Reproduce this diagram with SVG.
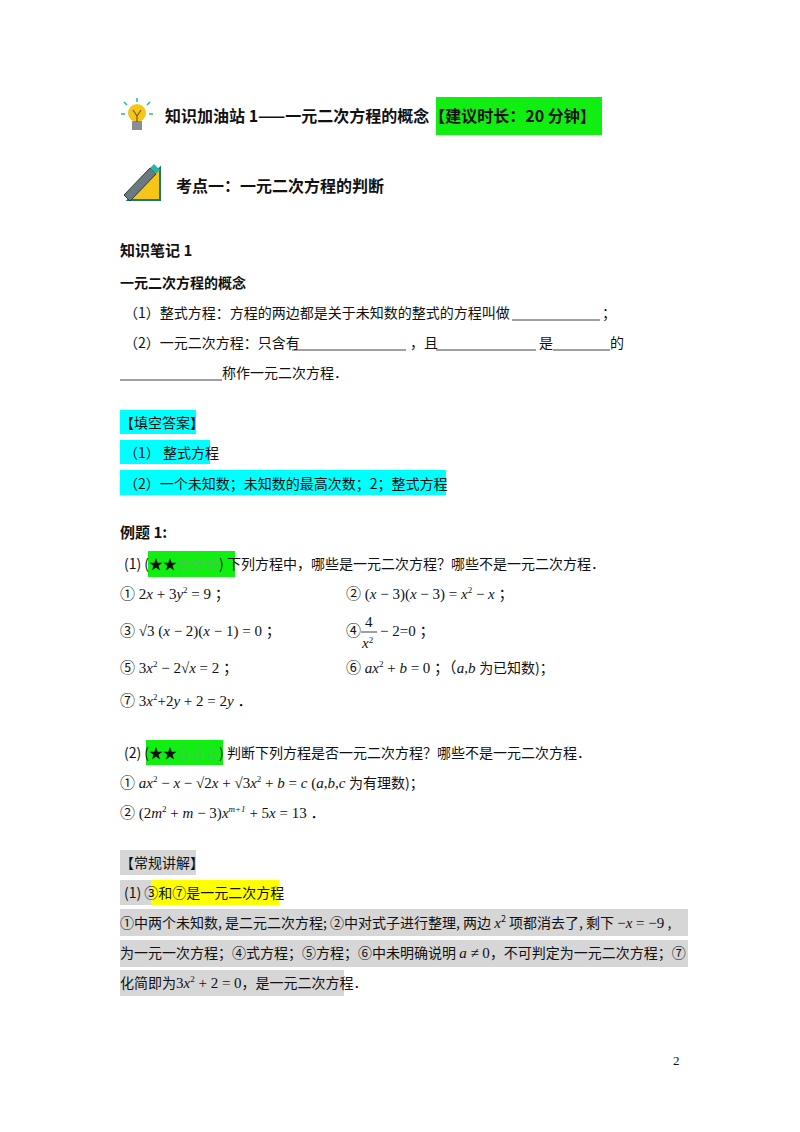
<svg xmlns="http://www.w3.org/2000/svg" width="800" height="1132" viewBox="0 0 800 1132">
<style>
text{font-family:"Noto Sans CJK SC","Liberation Sans",sans-serif;font-size:14px;fill:#111}
.b{font-weight:bold}
.m{font-family:"Liberation Serif","Noto Sans CJK SC",serif;font-size:15px}
.i{font-style:italic}
.s{font-size:9px}
.u{stroke:#111;stroke-width:0.8}
</style>
<rect width="800" height="1132" fill="#fff"/>
<g id="icon-bulb">
<circle cx="137" cy="113" r="9" fill="#f5c518"/>
<rect x="132" y="121" width="10" height="9" fill="#8a8f96"/>
<path d="M133 110 L137 116 L141 110 M137 116 V122" stroke="#7a5a00" fill="none" stroke-width="1.2"/>
<path d="M124 102 l3 3 M150 102 l-3 3 M121 114 h4 M149 114 h4 M137 98 v4" stroke="#2bb5a0" stroke-width="1.5"/>
</g>
<g id="icon-ruler">
<polygon points="128,200 160,200 160,168" fill="#f5c518" stroke="#1c7a6a" stroke-width="2"/>
<path d="M124 195 L150 168 L156 174 L130 201 Z" fill="#6b7a80" stroke="#2a3a40" stroke-width="1"/>
<path d="M150 168 L154 164 L160 170 L156 174 Z" fill="#2bb5a0"/>
</g>
<g id="title">
<rect x="436" y="97" width="166" height="38" fill="#11ee11"/>
<text x="165" y="122" class="b" style="font-size:16px">知识加油站 1——一元二次方程的概念【建议时长：20 分钟】</text>
<text x="176" y="192" class="b" style="font-size:16px">考点一：一元二次方程的判断</text>
</g>
<g id="notes">
<text x="120" y="256" class="b" style="font-size:15px">知识笔记 1</text>
<text x="120" y="288" class="b">一元二次方程的概念</text>
<text x="124" y="318">（1）整式方程：方程的两边都是关于未知数的整式的方程叫做</text>
<line x1="512" y1="320" x2="600" y2="320" class="u"/><text x="602" y="318">；</text>
<text x="124" y="348">（2）一元二次方程：只含有</text>
<line x1="292" y1="350" x2="406" y2="350" class="u"/><text x="410" y="348">，且</text>
<line x1="436" y1="350" x2="536" y2="350" class="u"/><text x="539" y="348">是</text>
<line x1="553" y1="350" x2="610" y2="350" class="u"/><text x="610" y="348">的</text>
<line x1="120" y1="380" x2="222" y2="380" class="u"/><text x="222" y="378">称作一元二次方程．</text>
</g>
<g id="answers">
<rect x="120" y="410" width="76" height="24" fill="#00ffff"/>
<text x="120" y="428">【填空答案】</text>
<rect x="120" y="440" width="90" height="24" fill="#00ffff"/>
<text x="124" y="458">（1）  整式方程</text>
<rect x="120" y="470" width="326" height="25" fill="#00ffff"/>
<text x="124" y="489">（2）一个未知数；未知数的最高次数；2；整式方程</text>
</g>
<g id="example1">
<text x="120" y="538" class="b" style="font-size:15px">例题 1:</text>
<rect x="148" y="551" width="87" height="26" fill="#11ee11"/>
<text x="124" y="569">(1)  (★★<tspan fill="#7a7">☆☆☆</tspan>)  下列方程中，哪些是一元二次方程？哪些不是一元二次方程．</text>
<text x="120" y="599" class="m">① 2<tspan class="i">x</tspan> + 3<tspan class="i">y</tspan><tspan class="s" dy="-6">2</tspan><tspan dy="6"> = 9 ；</tspan></text>
<text x="346" y="599" class="m">② (<tspan class="i">x</tspan> − 3)(<tspan class="i">x</tspan> − 3) = <tspan class="i">x</tspan><tspan class="s" dy="-6">2</tspan><tspan dy="6"> − </tspan><tspan class="i">x</tspan> ；</text>
<text x="120" y="636" class="m">③ √3 (<tspan class="i">x</tspan> − 2)(<tspan class="i">x</tspan> − 1) = 0 ；</text>
<text x="346" y="636" class="m">④</text>
<text x="365" y="627" class="m">4</text><line x1="361" y1="632" x2="377" y2="632" class="u"/>
<text x="362" y="648" class="m i">x<tspan class="s" dy="-5" font-style="normal">2</tspan></text>
<text x="380" y="636" class="m">− 2=0 ；</text>
<text x="120" y="673" class="m">⑤ 3<tspan class="i">x</tspan><tspan class="s" dy="-6">2</tspan><tspan dy="6"> − 2√</tspan><tspan class="i">x</tspan> = 2 ；</text>
<text x="346" y="673" class="m">⑥ <tspan class="i">ax</tspan><tspan class="s" dy="-6">2</tspan><tspan dy="6"> + </tspan><tspan class="i">b</tspan> = 0 ；（<tspan class="i">a</tspan>,<tspan class="i">b</tspan> <tspan style="font-family:'Noto Sans CJK SC',sans-serif;font-size:14px">为已知数)；</tspan></text>
<text x="120" y="706" class="m">⑦ 3<tspan class="i">x</tspan><tspan class="s" dy="-6">2</tspan><tspan dy="6">+2</tspan><tspan class="i">y</tspan> + 2 = 2<tspan class="i">y</tspan> ．</text>
<rect x="146" y="740" width="77" height="25" fill="#11ee11"/>
<text x="124" y="758">(2)  (★★<tspan fill="#7a7">☆☆☆</tspan>)  判断下列方程是否一元二次方程？哪些不是一元二次方程．</text>
<text x="120" y="788" class="m">① <tspan class="i">ax</tspan><tspan class="s" dy="-6">2</tspan><tspan dy="6"> − </tspan><tspan class="i">x</tspan> − √2<tspan class="i">x</tspan> + √3<tspan class="i">x</tspan><tspan class="s" dy="-6">2</tspan><tspan dy="6"> + </tspan><tspan class="i">b</tspan> = <tspan class="i">c</tspan>   (<tspan class="i">a</tspan>,<tspan class="i">b</tspan>,<tspan class="i">c</tspan> <tspan style="font-family:'Noto Sans CJK SC',sans-serif;font-size:14px">为有理数)；</tspan></text>
<text x="120" y="818" class="m">② (2<tspan class="i">m</tspan><tspan class="s" dy="-6">2</tspan><tspan dy="6"> + </tspan><tspan class="i">m</tspan> − 3)<tspan class="i">x</tspan><tspan class="s i" dy="-6">m+1</tspan><tspan dy="6"> + 5</tspan><tspan class="i">x</tspan> = 13 ．</text>
</g>
<g id="explain">
<rect x="120" y="850" width="76" height="25" fill="#d6d6d6"/>
<text x="120" y="868">【常规讲解】</text>
<rect x="120" y="880" width="31" height="25" fill="#d6d6d6"/>
<rect x="151" y="880" width="128" height="25" fill="#ffff00"/>
<text x="124" y="898">(1) ③和⑦是一元二次方程</text>
<rect x="120" y="909" width="568" height="27" fill="#d6d6d6"/>
<text x="120" y="928">①中两个未知数, 是二元二次方程; ②中对式子进行整理, 两边 <tspan class="m i">x</tspan><tspan class="s" dy="-6">2</tspan><tspan dy="6"> 项都消去了, 剩下 </tspan><tspan class="m">−<tspan class="i">x</tspan> = −9</tspan> ,</text>
<rect x="120" y="940" width="568" height="27" fill="#d6d6d6"/>
<text x="120" y="958">为一元一次方程；④式方程；⑤方程；⑥中未明确说明 <tspan class="m"><tspan class="i">a</tspan> ≠ 0</tspan>，不可判定为一元二次方程；⑦</text>
<rect x="120" y="970" width="224" height="26" fill="#d6d6d6"/>
<text x="120" y="988">化简即为<tspan class="m">3<tspan class="i">x</tspan><tspan class="s" dy="-6">2</tspan><tspan dy="6"> + 2 = 0</tspan></tspan>，是一元二次方程．</text>
</g>
<text x="673" y="1065" class="m" style="font-size:13px">2</text>
</svg>
